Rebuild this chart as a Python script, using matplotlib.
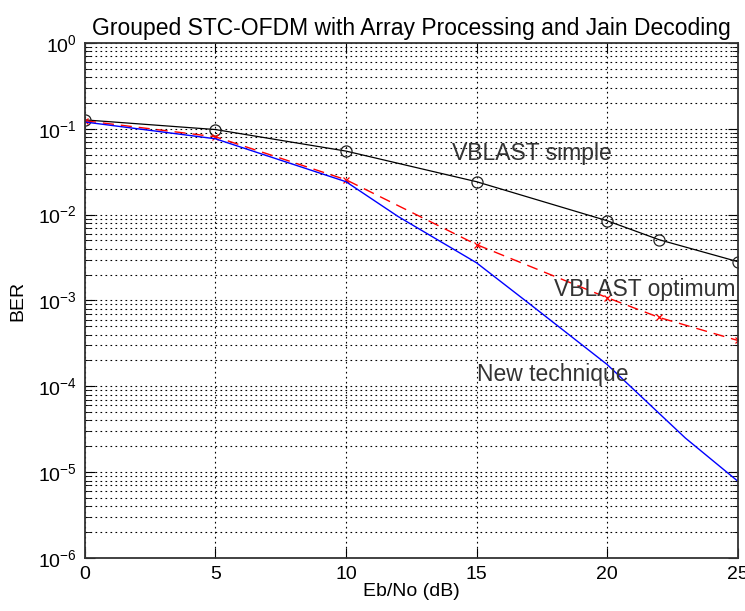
import matplotlib
matplotlib.use("Agg")
import matplotlib.pyplot as plt
from matplotlib.ticker import LogLocator, FixedLocator, NullFormatter

plt.rcParams['font.family'] = ['Liberation Sans', 'DejaVu Sans']

title = "Grouped STC-OFDM with Array Processing and Jain Decoding"
x_label = "Eb/No (dB)"
y_label = "BER"

snr_simple = [0, 5, 10, 15, 20, 22, 25]
ber_simple = [0.127, 0.098, 0.055, 0.0242, 0.0085, 0.0051, 0.00284]

snr_opt = [0, 5, 10, 15, 20, 22, 25]
ber_opt = [0.124, 0.0807, 0.0255, 0.00448, 0.00108, 0.000634, 0.000343]

snr_new = [0, 5, 10, 12, 15, 17, 20, 23, 25]
ber_new = [0.120, 0.0765, 0.0242, 0.0095, 0.00275, 0.00093, 0.00018, 2.5e-5, 7.9e-6]

labels = ["VBLAST simple", "VBLAST optimum", "New technique"]
label_pos = [(14.06, 0.051), (17.97, 0.00134), (15.02, 1.38e-4)]

xticks = [0, 5, 10, 15, 20, 25]

fig = plt.figure(figsize=(7.45, 6.11), dpi=100)
ax = fig.add_axes([0.114, 0.0867, 0.876, 0.843])

ax.semilogy(snr_simple, ber_simple, color='black', lw=0.9, marker='o',
            markersize=8, markerfacecolor='none', markeredgecolor='#222222', markeredgewidth=0.9)
ax.semilogy(snr_opt, ber_opt, color='red', lw=1.0, linestyle=(0, (8, 5)), marker='x',
            markersize=5, markeredgewidth=0.9)
ax.semilogy(snr_new, ber_new, color='blue', lw=1.0)

for t, (lx, ly) in zip(labels, label_pos):
    ax.text(lx, ly, t, fontsize=16.5, color='#333333', ha='left', va='center')

ax.set_xlim(0, 25)
ax.set_ylim(1e-6, 1)
ax.xaxis.set_major_locator(FixedLocator(xticks))
ax.yaxis.set_major_locator(LogLocator(base=10, numticks=10))
ax.yaxis.set_minor_locator(LogLocator(base=10, subs=range(2, 10), numticks=20))
ax.yaxis.set_minor_formatter(NullFormatter())

ax.grid(True, which='major', axis='both', color='black', linestyle=(0, (1.5, 3)), lw=0.8)
ax.grid(True, which='minor', axis='y', color='black', linestyle=(0, (1.5, 3)), lw=0.8)

ax.tick_params(which='both', direction='in', top=True, right=True, labelsize=14, pad=6)
ax.tick_params(which='major', length=7)
ax.tick_params(which='minor', length=4)
for s in ax.spines.values():
    s.set_linewidth(1.3)
    s.set_color('#333333')

ax.set_title(title, fontsize=16.5, pad=6)
ax.set_xlabel(x_label, fontsize=14, labelpad=0)
ax.set_ylabel(y_label, fontsize=14, labelpad=8)

fig.savefig("out.png", dpi=100)
